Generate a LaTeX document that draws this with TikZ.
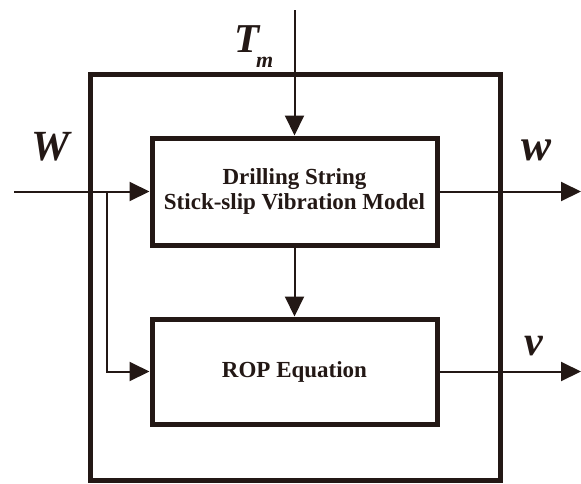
\documentclass[tikz,border=0pt]{standalone}
\usepackage{fontspec}
\setmainfont{Liberation Serif}
\usetikzlibrary{arrows.meta}
\definecolor{ink}{HTML}{231815}
\tikzset{
  blockbox/.style={draw=ink, line width=5pt, fill=white, inner sep=0pt, align=center,
    font=\fontsize{23}{25}\selectfont\bfseries, text=ink},
  outerbox/.style={draw=ink, line width=5pt, inner sep=0pt},
  arr/.style={draw=ink, line width=2pt, -{Triangle[length=20pt,width=19pt]}},
  sym/.style={text=ink, inner sep=0pt, font=\bfseries\itshape}
}
\begin{document}
\begin{tikzpicture}[x=1pt,y=-1pt]
\useasboundingbox (0,0) rectangle (581,483);
\node[outerbox, minimum width=410pt, minimum height=406pt] (outer) at (295,277) {};
\node[blockbox, minimum width=285pt, minimum height=107pt] (dsm) at (294.5,191.5) {Drilling String\\Stick-slip Vibration Model};
\node[blockbox, minimum width=285pt, minimum height=105pt] (rop) at (294.5,371.5) {ROP Equation};
\coordinate (win) at (14,191.5);
\coordinate (br) at (107,191.5);
\coordinate (tin) at (294.5,10);
\coordinate (wout) at (581,191.5);
\coordinate (vout) at (581,371.5);
\draw[arr] (win) -- (dsm.west);
\draw[arr] (br) |- (rop.west);
\draw[arr] (tin) -- (dsm.north);
\draw[arr] (dsm.south) -- (rop.north);
\draw[arr] (dsm.east) -- (wout);
\draw[arr] (rop.east) -- (vout);
\node[sym, anchor=base west, font=\fontsize{41}{41}\selectfont\bfseries\itshape] (tl) at (234,52) {T\kern-3pt\raisebox{-15pt}{\fontsize{22}{22}\selectfont m}};
\node[sym, anchor=base west, font=\fontsize{43}{43}\selectfont\bfseries\itshape] (wl) at (31,160) {W};
\node[sym, anchor=base west, font=\fontsize{45}{45}\selectfont\bfseries\itshape] (wsl) at (521,160) {w};
\node[sym, anchor=base west, font=\fontsize{42}{42}\selectfont\bfseries\itshape] (vl) at (524,355) {v};
\end{tikzpicture}
\end{document}
